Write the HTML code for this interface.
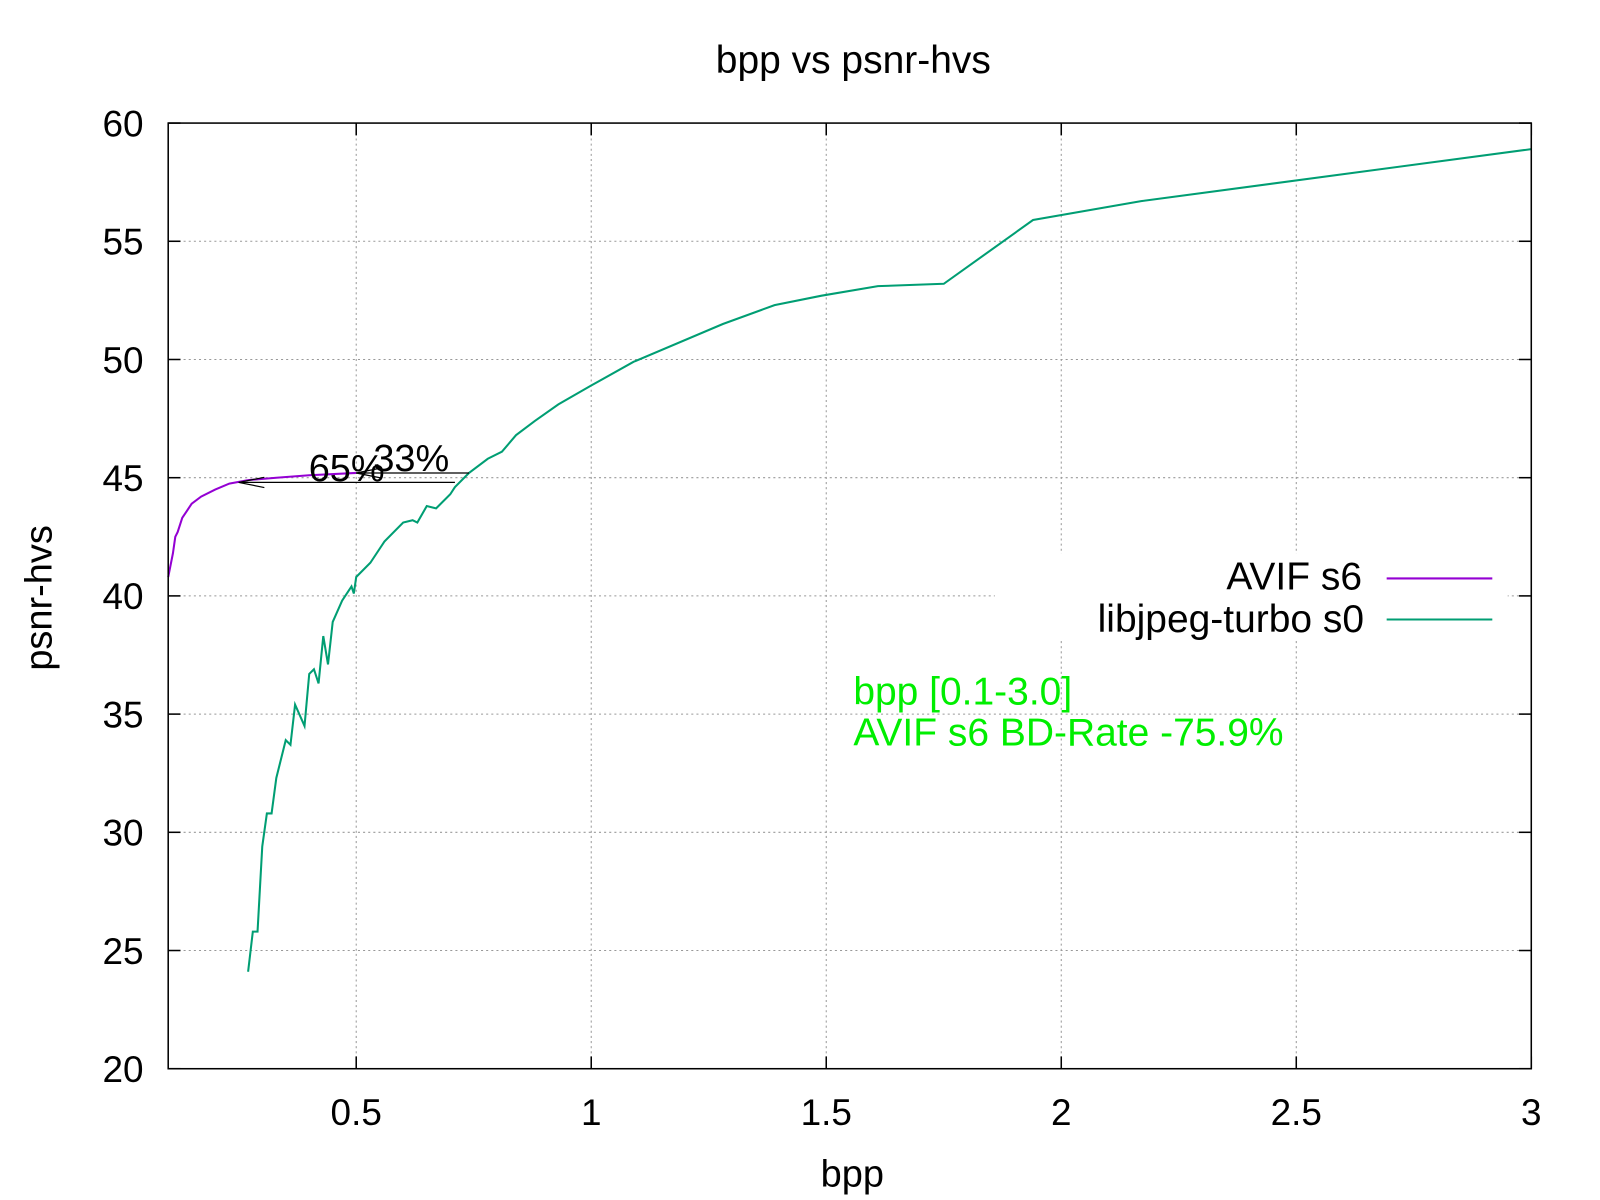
<!DOCTYPE html>
<html><head><meta charset="utf-8"><style>html,body{margin:0;padding:0;background:#fff}svg{display:block}text{font-family:"Liberation Sans",Arial,sans-serif}</style></head>
<body>
<svg id="chart" xmlns="http://www.w3.org/2000/svg" width="1600" height="1200" viewBox="0 0 1560 1170">
<rect width="1560" height="1170" fill="#fff"/>
<g id="grid"></g>
<g id="ticks"></g>
<text x="832" y="71" font-size="38" text-anchor="middle">bpp vs psnr-hvs</text>
<text x="831" y="1157" font-size="37" text-anchor="middle">bpp</text>
<text x="0" y="0" font-size="37" text-anchor="middle" transform="translate(50,583) rotate(-90)">psnr-hvs</text>
<g id="series"></g>
<g id="annot"></g>
<rect x="970" y="540" width="500" height="85" fill="#fff"/>
<text x="1328" y="575" font-size="38" text-anchor="end">AVIF s6</text>
<line x1="1352" y1="564" x2="1455" y2="564" stroke="#9400d3" stroke-width="2"/>
<text x="1330" y="616" font-size="38" text-anchor="end">libjpeg-turbo s0</text>
<line x1="1352" y1="604" x2="1455" y2="604" stroke="#009e73" stroke-width="2"/>
<text x="832" y="687" font-size="38" fill="#00ee00">bpp [0.1-3.0]</text>
<text x="832" y="727" font-size="38" fill="#00ee00">AVIF s6 BD-Rate -75.9%</text>
<rect x="164" y="120" width="1329" height="922" fill="none" stroke="#000" stroke-width="1.5"/>
</svg>
<script>
const xTicks=[0.5,1,1.5,2,2.5,3];
const yTicks=[20,25,30,35,40,45,50,55,60];
const avifBpp=[0.1,0.11,0.115,0.12,0.13,0.14,0.15,0.17,0.2,0.23,0.27,0.33,0.4,0.5];
const avifPsnr=[40.8,41.8,42.5,42.7,43.3,43.6,43.9,44.2,44.5,44.75,44.9,45.0,45.1,45.2];
const jpegBpp=[0.27,0.28,0.29,0.30,0.31,0.32,0.33,0.35,0.36,0.37,0.39,0.40,0.41,0.42,0.43,0.44,0.45,0.47,0.49,0.495,0.50,0.53,0.56,0.60,0.62,0.63,0.65,0.67,0.70,0.71,0.74,0.78,0.81,0.84,0.88,0.93,1.0,1.09,1.28,1.39,1.49,1.61,1.75,1.94,2.17,3.0];
const jpegPsnr=[24.1,25.8,25.8,29.4,30.8,30.8,32.3,33.9,33.7,35.4,34.5,36.7,36.9,36.3,38.3,37.1,38.9,39.8,40.4,40.1,40.8,41.4,42.3,43.1,43.2,43.1,43.8,43.7,44.3,44.6,45.2,45.8,46.1,46.8,47.4,48.1,48.9,49.9,51.5,52.3,52.7,53.1,53.2,55.9,56.7,58.9];
const X0=164,X1=1493,Y0=1042,Y1=120;
const sx=v=>X0+(v-0.1)/(3-0.1)*(X1-X0);
const sy=v=>Y0-(v-20)/(60-20)*(Y0-Y1);
const NS='http://www.w3.org/2000/svg';
function mk(tag,attrs,parent){const e=document.createElementNS(NS,tag);for(const k in attrs)e.setAttribute(k,attrs[k]);parent.appendChild(e);return e;}
const grid=document.getElementById('grid'),ticks=document.getElementById('ticks');
xTicks.forEach(t=>{const x=sx(t);
 const g=mk('line',{x1:x,y1:Y0,x2:x,y2:Y1,stroke:'#999','stroke-width':1,'stroke-dasharray':'2,3'},grid);
 
 
 const a=mk('line',{x1:x,y1:Y0,x2:x,y2:Y0-12,stroke:'#000','stroke-width':1.5},ticks);
 
 
 const b=mk('line',{x1:x,y1:Y1,x2:x,y2:Y1+12,stroke:'#000','stroke-width':1.5},ticks);
 
 
 const tx=mk('text',{x:x,y:1097,'font-size':36,'text-anchor':'middle'},ticks);tx.textContent=String(t);
 
 
});
yTicks.forEach(t=>{const y=sy(t);
 if(t>20&&t<60){const g=mk('line',{x1:X0,y1:y,x2:X1,y2:y,stroke:'#999','stroke-width':1,'stroke-dasharray':'2,3'},grid);
 
 }
 const a=mk('line',{x1:X0,y1:y,x2:X0+12,y2:y,stroke:'#000','stroke-width':1.5},ticks);
 
 
 const b=mk('line',{x1:X1,y1:y,x2:X1-12,y2:y,stroke:'#000','stroke-width':1.5},ticks);
 
 
 const tx=mk('text',{x:140,y:y+13,'font-size':36,'text-anchor':'end'},ticks);tx.textContent=String(t);
 
 
});
const series=document.getElementById('series');
function pts(xs,ys){return xs.map((v,i)=>sx(v).toFixed(1)+','+sy(ys[i]).toFixed(1)).join(' ');}
const pj=mk('polyline',{points:pts(jpegBpp,jpegPsnr),fill:'none',stroke:'#009e73','stroke-width':2},series);


const pa=mk('polyline',{points:pts(avifBpp,avifPsnr),fill:'none',stroke:'#9400d3','stroke-width':2},series);


const an=document.getElementById('annot');
function arrow(x1,x2,yv,name){const y=sy(yv);
 const l=mk('line',{x1:sx(x1),y1:y,x2:sx(x2),y2:y,stroke:'#000','stroke-width':1.2},an);
 
 
 const h=mk('polyline',{points:(sx(x2)+25)+','+(y-5)+' '+sx(x2)+','+y+' '+(sx(x2)+25)+','+(y+5),fill:'none',stroke:'#000','stroke-width':1.2},an);
 
 }
arrow(0.74,0.5,45.2,'arrow-33');
arrow(0.71,0.25,44.8,'arrow-65');
const t1=mk('text',{x:301,y:469,'font-size':37},an);t1.textContent='65%';


const t2=mk('text',{x:364,y:459,'font-size':37},an);t2.textContent='33%';


</script>
</body></html>
